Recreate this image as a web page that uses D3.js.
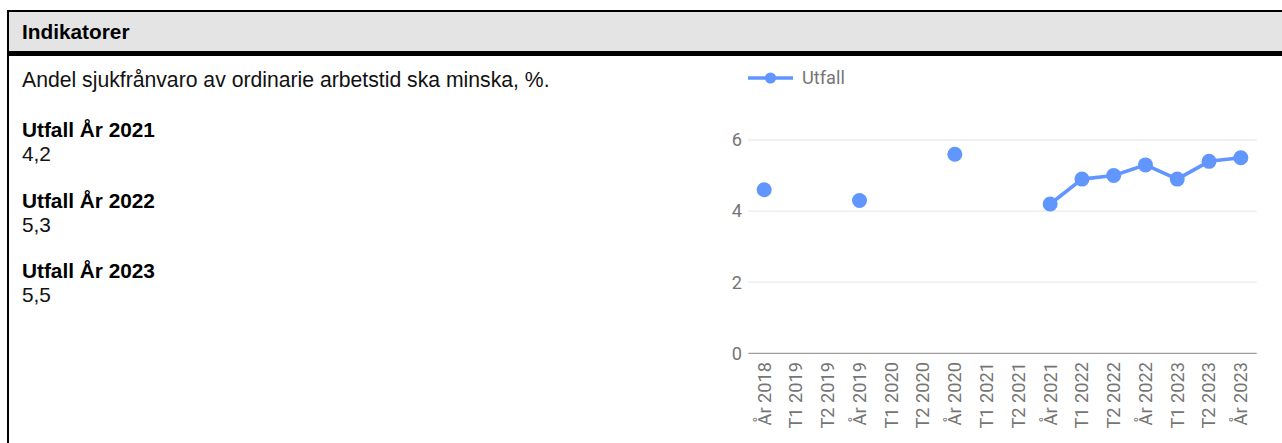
<!DOCTYPE html>
<html>
<head>
<meta charset="utf-8">
<script src="https://cdn.jsdelivr.net/npm/d3@7"></script>
<style>
  html, body { margin: 0; padding: 0; background: #fff; }
  svg { display: block; }
</style>
</head>
<body>
<svg id="chart" width="1282" height="443"></svg>
<script>
// ---- Data ----
const headerTitle = "Indikatorer";
const indicatorText = "Andel sjukfrånvaro av ordinarie arbetstid ska minska, %.";
const summaryLabels = ["Utfall År 2021", "Utfall År 2022", "Utfall År 2023"];
const summaryValues = ["4,2", "5,3", "5,5"];
const seriesName = "Utfall";
const categories = ["År 2018","T1 2019","T2 2019","År 2019","T1 2020","T2 2020","År 2020","T1 2021","T2 2021","År 2021","T1 2022","T2 2022","År 2022","T1 2023","T2 2023","År 2023"];
const values = [4.6, null, null, 4.3, null, null, 5.6, null, null, 4.2, 4.9, 5.0, 5.3, 4.9, 5.4, 5.5];
const yTicks = [0, 2, 4, 6];

// ---- Styles ----
const W = 1282, H = 443;
const blue = "#6196ff";
const svg = d3.select("#chart");

// Box / header
svg.append("rect").attr("x", 9).attr("y", 12).attr("width", W - 9).attr("height", 40).attr("fill", "#e4e4e4");
svg.append("rect").attr("x", 7).attr("y", 10).attr("width", W - 7).attr("height", 2).attr("fill", "#000");
svg.append("rect").attr("x", 7).attr("y", 51).attr("width", W - 7).attr("height", 5).attr("fill", "#000");
svg.append("rect").attr("x", 7).attr("y", 10).attr("width", 2).attr("height", H - 10).attr("fill", "#000");

const arial = "'Liberation Sans', Arial, sans-serif";
svg.append("text").attr("x", 22).attr("y", 39)
  .attr("font-family", arial).attr("font-weight", "bold").attr("font-size", 20.8)
  .attr("fill", "#000").text(headerTitle);

svg.append("text").attr("x", 22).attr("y", 87)
  .attr("font-family", arial).attr("font-size", 21.2).attr("fill", "#111").text(indicatorText);

summaryLabels.forEach((lab, i) => {
  const by = 137 + i * 70.5;
  svg.append("text").attr("x", 22).attr("y", by)
    .attr("font-family", arial).attr("font-weight", "bold").attr("font-size", 20.8)
    .attr("fill", "#000").text(lab);
  svg.append("text").attr("x", 22).attr("y", by + 24)
    .attr("font-family", arial).attr("font-size", 20.8)
    .attr("fill", "#111").text(summaryValues[i]);
});

// ---- Chart ----
const roboto = "Roboto, sans-serif";
const x = d3.scalePoint().domain(categories).range([748.3, 1256.7]).padding(0.5);
const y = d3.scaleLinear().domain([0, 6]).range([353.3, 140]);

const g = svg.append("g");

// gridlines
g.selectAll("line.grid").data(yTicks.filter(d => d !== 0)).enter().append("line")
  .attr("x1", 748.3).attr("x2", 1256.7)
  .attr("y1", d => y(d)).attr("y2", d => y(d))
  .attr("stroke", "#ebebeb").attr("stroke-width", 1.3);

// baseline
g.append("line").attr("x1", 748.3).attr("x2", 1256.7)
  .attr("y1", y(0)).attr("y2", y(0))
  .attr("stroke", "#9e9e9e").attr("stroke-width", 1.3);

// y labels
g.selectAll("text.ytick").data(yTicks).enter().append("text")
  .attr("x", 742).attr("y", d => y(d)).attr("dy", "0.35em")
  .attr("text-anchor", "end")
  .attr("font-family", roboto).attr("font-size", 18.2).attr("fill", "#757575")
  .text(d => d);

// x labels
g.selectAll("text.xtick").data(categories).enter().append("text")
  .attr("transform", d => `translate(${x(d)},362) rotate(-90)`)
  .attr("dy", "0.35em")
  .attr("text-anchor", "end")
  .attr("font-family", roboto).attr("font-size", 18.2).attr("fill", "#757575")
  .text(d => d);

// line
const pts = categories.map((c, i) => ({ c, v: values[i] }));
const line = d3.line().defined(d => d.v !== null).x(d => x(d.c)).y(d => y(d.v));
g.append("path").datum(pts).attr("d", line)
  .attr("fill", "none").attr("stroke", blue).attr("stroke-width", 3.6)
  .attr("stroke-linejoin", "round");

g.selectAll("circle.pt").data(pts.filter(d => d.v !== null)).enter().append("circle")
  .attr("cx", d => x(d.c)).attr("cy", d => y(d.v)).attr("r", 7.5)
  .attr("fill", blue);

// legend
const lg = svg.append("g");
lg.append("line").attr("x1", 748).attr("x2", 793).attr("y1", 78).attr("y2", 78)
  .attr("stroke", blue).attr("stroke-width", 3.6);
lg.append("circle").attr("cx", 770.5).attr("cy", 78).attr("r", 5.6).attr("fill", blue);
lg.append("text").attr("x", 802).attr("y", 78).attr("dy", "0.35em")
  .attr("font-family", roboto).attr("font-size", 18.2).attr("fill", "#757575")
  .text(seriesName);
</script>
</body>
</html>
